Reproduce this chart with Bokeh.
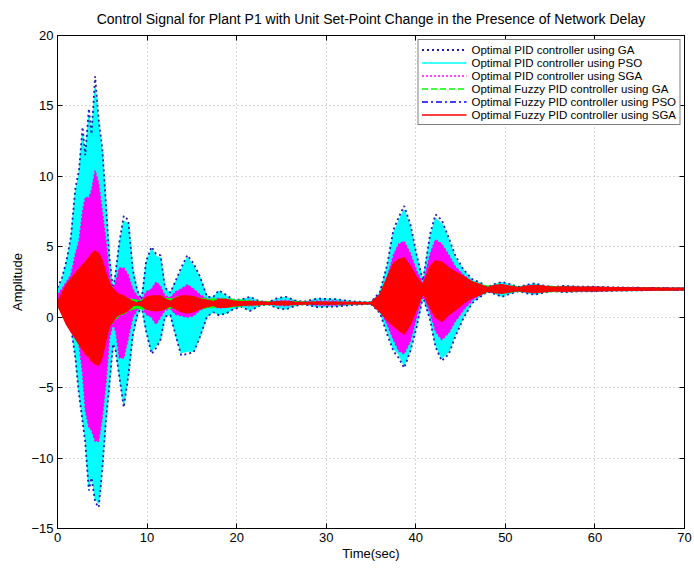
from bokeh.plotting import figure
from bokeh.models import LinearAxis, Range1d, Legend, LegendItem
from bokeh.embed import file_html
from bokeh.resources import INLINE

# Time grid (sec) shared by all envelope arrays
t = [0, 0.5, 1.0, 1.5, 2.0, 2.4, 2.8, 3.1, 3.5, 3.8,
     4.2, 4.6, 5.0, 5.4, 5.8, 6.2, 6.5, 6.9, 7.4, 7.9,
     8.4, 8.9, 9.4, 9.9, 10.5, 11.0, 11.5, 12.0, 12.6, 13.2,
     13.8, 14.5, 15.2, 15.9, 16.7, 17.4, 18.0, 18.8, 19.6, 20.5,
     21.5, 22.5, 23.5, 24.5, 25.5, 26.5, 27.5, 29.0, 31.0, 33.0,
     35.0, 36.0, 36.8, 37.5, 38.1, 38.7, 39.4, 40.1, 40.8, 41.6,
     42.2, 42.9, 43.7, 44.4, 45.3, 46.3, 47.2, 48.0, 48.8, 49.6,
     50.5, 51.5, 52.4, 53.3, 54.3, 55.3, 56.5, 58.0, 60.0, 62.0,
     64.0, 66.0, 68.0, 70.0]

# Optimal PID controller using GA: upper / lower swing of the control signal
pid_ga_hi = [2.1, 2.8, 4.0, 5.7, 9.2, 10.4, 13.5, 11.5, 14.8, 13.0,
             17.1, 14.0, 12.0, 8.1, 4.2, 1.9, 3.2, 5.3, 7.2, 6.9,
             3.4, 1.9, 1.25, 4.0, 5.0, 4.5, 4.4, 2.1, 1.75, 2.6,
             3.5, 4.4, 3.8, 2.9, 1.45, 1.45, 1.9, 1.6, 1.25, 1.25,
             1.45, 1.15, 1.05, 1.35, 1.45, 1.2, 1.1, 1.32, 1.28, 1.12,
             1.06, 1.8, 3.7, 6.2, 7.1, 7.9, 6.6, 4.4, 2.6, 5.9,
             7.3, 6.9, 5.6, 4.4, 3.4, 2.7, 2.45, 2.15, 2.35, 2.5,
             2.35, 2.15, 2.3, 2.4, 2.25, 2.15, 2.22, 2.17, 2.16, 2.12,
             2.1, 2.08, 2.06, 2.05]
pid_ga_lo = [0.88, 0.5, 0.1, -0.7, -2.9, -5.5, -7.4, -8.9, -12.3, -11.4,
             -13.1, -13.5, -10.8, -7.4, -4.8, -1.9, -2.4, -4.2, -6.4, -4.2,
             -1.3, 0.15, 0.75, -1.0, -2.6, -2.2, -1.6, 0.05, 0.15, -1.3,
             -2.7, -2.6, -2.5, -1.4, 0.05, 0.35, 0.15, 0.25, 0.55, 0.75,
             0.45, 0.8, 0.92, 0.65, 0.55, 0.8, 0.92, 0.72, 0.75, 0.88,
             0.94, 0.3, -1.2, -2.4, -2.9, -3.6, -2.4, -0.7, 1.45, -0.2,
             -2.1, -3.1, -2.6, -1.4, -0.1, 1.0, 1.45, 1.82, 1.65, 1.45,
             1.65, 1.85, 1.7, 1.6, 1.75, 1.85, 1.78, 1.83, 1.84, 1.88,
             1.9, 1.92, 1.94, 1.95]

# Optimal PID controller using PSO
pid_pso_hi = [2.0, 2.6, 3.8, 5.4, 8.8, 10.0, 13.0, 11.0, 14.3, 12.5,
              16.3, 13.4, 11.6, 7.8, 4.0, 1.8, 3.0, 5.0, 6.8, 6.6,
              3.3, 1.8, 1.2, 3.8, 4.8, 4.3, 4.2, 2.0, 1.7, 2.5,
              3.3, 4.2, 3.6, 2.8, 1.4, 1.4, 1.8, 1.5, 1.2, 1.2,
              1.4, 1.1, 1.0, 1.3, 1.4, 1.15, 1.05, 1.3, 1.25, 1.1,
              1.05, 1.7, 3.5, 5.9, 6.8, 7.6, 6.3, 4.2, 2.5, 5.6,
              7.0, 6.6, 5.4, 4.2, 3.3, 2.6, 2.4, 2.1, 2.3, 2.45,
              2.3, 2.1, 2.25, 2.35, 2.2, 2.1, 2.2, 2.15, 2.15, 2.1,
              2.1, 2.08, 2.06, 2.05]
pid_pso_lo = [0.9, 0.6, 0.2, -0.5, -2.6, -5.2, -7.1, -8.5, -12.0, -11.0,
              -12.8, -13.2, -10.4, -7.1, -4.5, -1.7, -2.2, -4.0, -6.1, -4.0,
              -1.2, 0.2, 0.8, -0.9, -2.4, -2.0, -1.5, 0.1, 0.2, -1.2,
              -2.5, -2.4, -2.4, -1.3, 0.1, 0.4, 0.2, 0.3, 0.6, 0.8,
              0.5, 0.85, 0.95, 0.7, 0.6, 0.85, 0.95, 0.75, 0.8, 0.9,
              0.95, 0.4, -1.0, -2.2, -2.6, -3.4, -2.2, -0.5, 1.5, 0.0,
              -1.9, -2.9, -2.4, -1.2, 0.0, 1.1, 1.5, 1.85, 1.7, 1.5,
              1.7, 1.9, 1.75, 1.65, 1.8, 1.9, 1.8, 1.85, 1.85, 1.9,
              1.9, 1.92, 1.94, 1.95]

# Optimal PID controller using SGA
pid_sga_hi = [1.6, 2.0, 2.5, 3.0, 4.5, 5.4, 7.5, 8.5, 8.5, 9.0,
              10.4, 9.5, 7.5, 5.5, 3.0, 2.0, 2.5, 3.5, 3.5, 3.0,
              2.0, 1.5, 1.2, 1.8, 2.0, 2.5, 2.2, 1.5, 1.4, 1.8,
              2.0, 2.3, 2.0, 1.6, 1.3, 1.25, 1.35, 1.3, 1.2, 1.15,
              1.2, 1.1, 1.05, 1.15, 1.2, 1.1, 1.05, 1.15, 1.15, 1.05,
              1.03, 1.6, 2.8, 4.4, 5.2, 5.4, 4.5, 3.3, 2.4, 4.5,
              5.5, 5.2, 4.4, 3.6, 3.0, 2.5, 2.3, 2.1, 2.25, 2.3,
              2.2, 2.1, 2.2, 2.25, 2.15, 2.1, 2.15, 2.12, 2.12, 2.08,
              2.07, 2.06, 2.05, 2.04]
pid_sga_lo = [0.9, 0.7, 0.3, -0.3, -1.0, -1.9, -4.0, -6.6, -7.8, -8.0,
              -8.8, -8.8, -7.1, -4.7, -1.5, -0.5, -1.0, -2.9, -2.9, -1.5,
              0.0, 0.5, 0.8, 0.2, 0.0, -0.5, 0.0, 0.5, 0.6, 0.2,
              0.1, 0.0, 0.1, 0.5, 0.7, 0.75, 0.65, 0.7, 0.8, 0.85,
              0.8, 0.9, 0.95, 0.85, 0.8, 0.9, 0.95, 0.85, 0.85, 0.95,
              0.97, 0.5, -0.5, -1.6, -2.4, -2.6, -1.7, 0.0, 1.6, 0.3,
              -1.0, -1.6, -1.1, -0.3, 0.5, 1.2, 1.6, 1.85, 1.75, 1.7,
              1.8, 1.9, 1.8, 1.75, 1.85, 1.9, 1.85, 1.88, 1.88, 1.92,
              1.93, 1.94, 1.95, 1.96]

# Optimal Fuzzy PID controller using GA
fuzzy_ga_hi = [1.05, 1.6, 2.2, 2.6, 3.0, 3.3, 3.6, 3.9, 4.2, 4.4,
               4.6, 4.4, 3.9, 3.0, 2.3, 1.9, 1.7, 1.55, 1.45, 1.35,
               1.25, 1.2, 1.2, 1.35, 1.45, 1.45, 1.45, 1.35, 1.3, 1.4,
               1.45, 1.45, 1.4, 1.35, 1.3, 1.3, 1.3, 1.3, 1.25, 1.2,
               1.15, 1.12, 1.1, 1.1, 1.12, 1.1, 1.08, 1.07, 1.06, 1.05,
               1.04, 1.5, 2.6, 3.5, 3.9, 4.0, 3.4, 2.7, 2.3, 3.3,
               3.7, 3.6, 3.3, 3.0, 2.8, 2.5, 2.35, 2.2, 2.25, 2.28,
               2.22, 2.15, 2.18, 2.2, 2.2, 2.18, 2.15, 2.12, 2.1, 2.09,
               2.08, 2.07, 2.06, 2.05]
fuzzy_ga_lo = [0.9, 0.3, -0.4, -0.9, -1.4, -1.8, -2.2, -2.5, -2.7, -2.9,
               -3.0, -3.1, -2.6, -1.5, -0.5, -0.4, -0.1, 0.1, 0.25, 0.45,
               0.6, 0.6, 0.6, 0.55, 0.5, 0.5, 0.55, 0.6, 0.65, 0.6,
               0.5, 0.5, 0.55, 0.6, 0.65, 0.7, 0.7, 0.7, 0.75, 0.8,
               0.85, 0.88, 0.9, 0.9, 0.88, 0.9, 0.92, 0.93, 0.94, 0.95,
               0.96, 0.5, 0.0, -0.4, -0.7, -0.9, -0.3, 0.7, 1.7, 0.9,
               0.3, 0.0, 0.4, 0.7, 1.1, 1.5, 1.65, 1.8, 1.75, 1.72,
               1.78, 1.85, 1.82, 1.8, 1.8, 1.82, 1.85, 1.88, 1.9, 1.91,
               1.92, 1.93, 1.94, 1.95]

# Optimal Fuzzy PID controller using PSO
fuzzy_pso_hi = [1.0, 1.5, 2.1, 2.5, 2.9, 3.1, 3.4, 3.6, 3.9, 4.1,
                4.2, 4.0, 3.6, 2.8, 2.1, 1.8, 1.6, 1.45, 1.35, 1.2,
                1.1, 1.05, 1.1, 1.3, 1.4, 1.4, 1.4, 1.25, 1.1, 1.3,
                1.4, 1.4, 1.35, 1.25, 1.15, 1.1, 1.2, 1.2, 1.12, 1.08,
                1.08, 1.06, 1.04, 1.06, 1.08, 1.05, 1.04, 1.05, 1.04, 1.03,
                1.02, 1.5, 2.5, 3.4, 3.7, 3.8, 3.3, 2.6, 2.3, 3.3,
                3.6, 3.5, 3.2, 2.9, 2.7, 2.4, 2.25, 2.1, 2.2, 2.25,
                2.18, 2.1, 2.15, 2.2, 2.15, 2.1, 2.12, 2.1, 2.1, 2.08,
                2.07, 2.06, 2.05, 2.04]
fuzzy_pso_lo = [0.9, 0.35, -0.3, -0.8, -1.2, -1.6, -2.0, -2.3, -2.5, -2.8,
                -2.9, -3.0, -2.4, -1.3, -0.4, -0.2, 0.05, 0.25, 0.35, 0.55,
                0.8, 0.9, 0.85, 0.65, 0.55, 0.5, 0.55, 0.65, 0.85, 0.65,
                0.45, 0.35, 0.45, 0.65, 0.8, 0.88, 0.75, 0.75, 0.85, 0.9,
                0.9, 0.92, 0.95, 0.92, 0.9, 0.94, 0.95, 0.94, 0.95, 0.97,
                0.98, 0.5, 0.0, -0.4, -0.7, -1.0, -0.3, 0.7, 1.7, 0.8,
                0.1, -0.2, 0.3, 0.6, 1.1, 1.5, 1.65, 1.88, 1.78, 1.72,
                1.82, 1.9, 1.85, 1.8, 1.85, 1.9, 1.88, 1.9, 1.9, 1.92,
                1.93, 1.94, 1.95, 1.96]

# Optimal Fuzzy PID controller using SGA
fuzzy_sga_hi = [1.0, 1.7, 2.3, 2.7, 3.1, 3.4, 3.7, 3.9, 4.2, 4.5,
                4.7, 4.5, 4.0, 3.1, 2.4, 2.0, 1.8, 1.6, 1.5, 1.3,
                1.1, 1.0, 1.1, 1.4, 1.5, 1.5, 1.5, 1.3, 1.1, 1.35,
                1.5, 1.5, 1.45, 1.3, 1.2, 1.1, 1.25, 1.25, 1.15, 1.1,
                1.1, 1.08, 1.05, 1.08, 1.1, 1.07, 1.05, 1.06, 1.05, 1.04,
                1.03, 1.6, 2.8, 3.8, 4.1, 4.2, 3.6, 2.8, 2.3, 3.6,
                4.0, 3.9, 3.5, 3.2, 2.9, 2.5, 2.3, 2.1, 2.25, 2.3,
                2.2, 2.1, 2.2, 2.25, 2.2, 2.12, 2.15, 2.13, 2.12, 2.1,
                2.08, 2.07, 2.06, 2.05]
fuzzy_sga_lo = [0.9, 0.2, -0.5, -1.0, -1.5, -1.9, -2.3, -2.6, -2.8, -3.1,
                -3.3, -3.4, -2.8, -1.6, -0.6, -0.3, 0.0, 0.2, 0.3, 0.5,
                0.8, 0.9, 0.8, 0.6, 0.5, 0.45, 0.5, 0.6, 0.8, 0.6,
                0.4, 0.3, 0.4, 0.6, 0.75, 0.85, 0.7, 0.7, 0.8, 0.85,
                0.88, 0.9, 0.93, 0.9, 0.88, 0.92, 0.94, 0.93, 0.94, 0.96,
                0.97, 0.4, -0.2, -0.6, -0.9, -1.2, -0.5, 0.6, 1.7, 0.7,
                0.0, -0.3, 0.2, 0.5, 1.0, 1.4, 1.6, 1.85, 1.75, 1.7,
                1.8, 1.9, 1.8, 1.75, 1.8, 1.88, 1.85, 1.87, 1.88, 1.9,
                1.92, 1.93, 1.94, 1.95]

x_ticks = [0, 10, 20, 30, 40, 50, 60, 70]
y_ticks = [-15, -10, -5, 0, 5, 10, 15, 20]

FONT = "Liberation Sans"

p = figure(width=694, height=569, output_backend="svg", toolbar_location=None,
           x_range=Range1d(0, 70), y_range=Range1d(-15, 20),
           min_border_left=57, min_border_right=10,
           min_border_top=34, min_border_bottom=41,
           background_fill_color="white", border_fill_color="white")

p.title.text = ("Control Signal for Plant P1 with Unit Set-Point Change "
                "in the Presence of Network Delay")
p.title.align = "center"
p.title.text_font = FONT
p.title.text_font_size = "14px"
p.title.text_font_style = "normal"
p.title.text_color = "black"
p.title.standoff = 17

p.outline_line_color = "black"
p.outline_line_width = 1

for ax, ticks in ((p.xaxis, x_ticks), (p.yaxis, y_ticks)):
    ax.ticker = ticks
    ax.major_tick_in = 5
    ax.major_tick_out = 0
    ax.minor_tick_in = 0
    ax.minor_tick_out = 0
    ax.axis_line_color = "black"
    ax.major_tick_line_color = "black"
    ax.major_label_text_font = FONT
    ax.major_label_text_font_size = "13px"
    ax.major_label_text_color = "black"
    ax.major_label_standoff = 4
    ax.axis_label_text_font = FONT
    ax.axis_label_text_font_size = "13px"
    ax.axis_label_text_font_style = "normal"
    ax.axis_label_text_color = "black"

p.xaxis.axis_label = "Time(sec)"
p.xaxis.axis_label_standoff = 1
p.yaxis.axis_label = "Amplitude"
p.yaxis.axis_label_standoff = 3

# tick marks on the opposite edges of the box
for loc, ticks in (("right", y_ticks), ("above", x_ticks)):
    extra = LinearAxis(ticker=ticks, major_tick_in=5, major_tick_out=0,
                       minor_tick_in=0, minor_tick_out=0,
                       major_label_overrides={v: "" for v in ticks},
                       major_label_standoff=0, axis_line_color="black")
    p.add_layout(extra, loc)

p.xgrid.grid_line_color = "#b0b0b0"
p.xgrid.grid_line_dash = "1 3"
p.ygrid.grid_line_color = "#b0b0b0"
p.ygrid.grid_line_dash = "1 3"


def envelope(hi, lo, color, dash, width=1.5, fill=True):
    if fill:
        p.varea(x=t, y1=lo, y2=hi, fill_color=color, fill_alpha=1.0)
    r = p.line(t, hi, line_color=color, line_dash=dash, line_width=width)
    p.line(t, lo, line_color=color, line_dash=dash, line_width=width)
    return r


C_GA = "#1c1cb0"
C_PSO = "#00ffff"
C_SGA = "#ff00ff"
C_FGA = "#00ff00"
C_FPSO = "#0000ff"
C_FSGA = "#ff0000"

r_pso = envelope(pid_pso_hi, pid_pso_lo, C_PSO, "solid")
r_ga = envelope(pid_ga_hi, pid_ga_lo, C_GA, "2 3", width=1.8, fill=False)
r_sga = envelope(pid_sga_hi, pid_sga_lo, C_SGA, "2 2")
r_fga = envelope(fuzzy_ga_hi, fuzzy_ga_lo, C_FGA, "6 3")
r_fpso = envelope(fuzzy_pso_hi, fuzzy_pso_lo, C_FPSO, "6 3 2 3")
r_fsga = envelope(fuzzy_sga_hi, fuzzy_sga_lo, C_FSGA, "solid")

legend = Legend(items=[
    LegendItem(label="Optimal PID controller using GA", renderers=[r_ga]),
    LegendItem(label="Optimal PID controller using PSO", renderers=[r_pso]),
    LegendItem(label="Optimal PID controller using SGA", renderers=[r_sga]),
    LegendItem(label="Optimal Fuzzy PID controller using GA", renderers=[r_fga]),
    LegendItem(label="Optimal Fuzzy PID controller using PSO", renderers=[r_fpso]),
    LegendItem(label="Optimal Fuzzy PID controller using SGA", renderers=[r_fsga]),
], location="top_right")
legend.margin = 4
legend.padding = 3
legend.spacing = 0
legend.glyph_width = 45
legend.glyph_height = 13
legend.label_height = 13
legend.label_standoff = 5
legend.label_text_font = FONT
legend.label_text_font_size = "11.5px"
legend.label_text_color = "black"
legend.border_line_color = "black"
legend.border_line_width = 1
legend.background_fill_color = "white"
legend.background_fill_alpha = 1.0
p.add_layout(legend)

open("out.html", "w").write(file_html(p, INLINE))
